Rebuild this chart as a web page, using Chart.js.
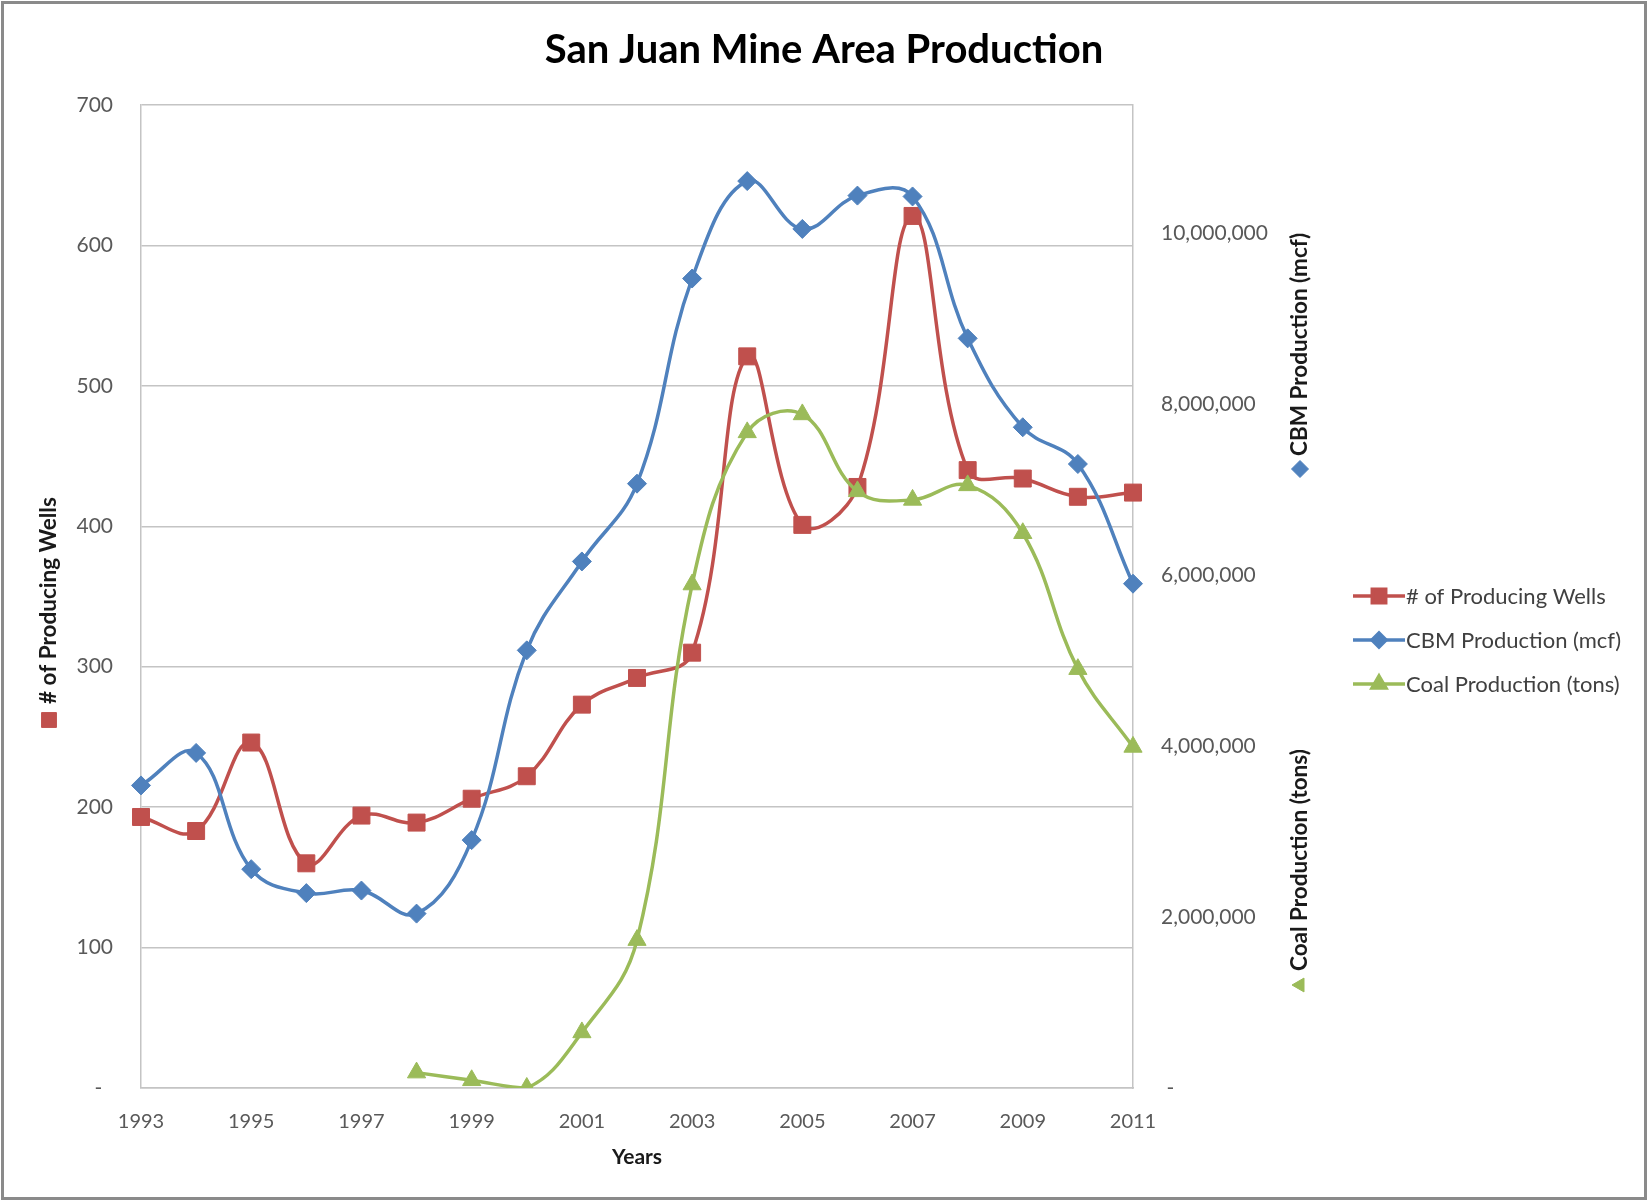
<!DOCTYPE html>
<html>
<head>
<meta charset="utf-8">
<title>San Juan Mine Area Production</title>
<script src="https://cdn.jsdelivr.net/npm/chart.js@4.4.1/dist/chart.umd.min.js"></script>
<style>
    html, body { margin: 0; padding: 0; background: #ffffff; overflow: hidden; }
    #wrap { width: 1648px; height: 1201px; position: relative; }
</style>
</head>
<body>
<div id="wrap"><canvas id="mineChart"></canvas></div>
<script>
// data
const years = ['1993', '1994', '1995', '1996', '1997', '1998', '1999', '2000', '2001', '2002',
               '2003', '2004', '2005', '2006', '2007', '2008', '2009', '2010', '2011'];
const producingWells = [193, 183, 246, 160, 194, 189, 206, 222, 273, 292,
                        310, 521, 401, 428, 621, 440, 434, 421, 424];
const cbmProduction = [3540000, 3920000, 2560000, 2280000, 2310000, 2040000, 2900000, 5120000, 6160000, 7070000,
                       9470000, 10610000, 10050000, 10440000, 10430000, 8770000, 7730000, 7300000, 5900000];
const coalProduction = [null, null, null, null, null, 180000, 90000, 0, 650000, 1730000,
                        5890000, 7670000, 7880000, 6980000, 6880000, 7050000, 6490000, 4900000, 3990000];
const wellTicks = [0, 100, 200, 300, 400, 500, 600, 700];
const productionTicks = [0, 2000000, 4000000, 6000000, 8000000, 10000000];

const RED = '#C0504D';
const BLUE = '#4F81BD';
const GREEN = '#9BBB59';
const GRID = '#C4C4C4';
const TICK_TEXT = '#595959';
const FONT = 'Lato';

Chart.defaults.font.family = FONT;

const seriesStyle = [
    { label: '# of Producing Wells', color: RED, pointStyle: 'rect', legendRadius: 9.5, titleRadius: 10.5 },
    { label: 'CBM Production (mcf)', color: BLUE, pointStyle: 'rectRot', legendRadius: 7, titleRadius: 8.5 },
    { label: 'Coal Production (tons)', color: GREEN, pointStyle: 'triangle', legendRadius: 8, titleRadius: 8 }
];

function marker(ctx, style, radius, x, y) {
    ctx.fillStyle = style.color;
    ctx.strokeStyle = style.color;
    Chart.helpers.drawPoint(ctx, { pointStyle: style.pointStyle, radius: radius, rotation: 0, borderWidth: 1 }, x, y);
}

// rotated axis title with its series marker in front (Excel style)
function sideTitle(ctx, style, cx, markerY, textStartY) {
    ctx.save();
    ctx.translate(cx, markerY);
    ctx.rotate(-Math.PI / 2);
    marker(ctx, style, style.titleRadius, 0, 0);
    ctx.restore();

    ctx.save();
    ctx.translate(cx, textStartY);
    ctx.rotate(-Math.PI / 2);
    ctx.font = 'bold 22.5px ' + FONT;
    ctx.fillStyle = '#1a1a1a';
    ctx.textAlign = 'left';
    ctx.textBaseline = 'middle';
    ctx.fillText(style.label, 0, 0);
    ctx.restore();
}

const excelExtras = {
    id: 'excelExtras',
    beforeDraw(chart) {
        const ctx = chart.ctx;
        ctx.save();
        ctx.fillStyle = '#ffffff';
        ctx.fillRect(0, 0, chart.width, chart.height);
        ctx.restore();
    },
    afterDraw(chart) {
        const ctx = chart.ctx;

        sideTitle(ctx, seriesStyle[0], 49, 720, 704);
        sideTitle(ctx, seriesStyle[1], 1300, 469, 456);
        sideTitle(ctx, seriesStyle[2], 1300, 985, 971);

        // legend: line with marker, label after it
        ctx.save();
        seriesStyle.forEach(function (s, i) {
            const y = 596 + i * 44;
            ctx.strokeStyle = s.color;
            ctx.lineWidth = 3.5;
            ctx.beginPath();
            ctx.moveTo(1353, y);
            ctx.lineTo(1405, y);
            ctx.stroke();
            marker(ctx, s, s.legendRadius, 1379, y);
            ctx.font = '22px ' + FONT;
            ctx.fillStyle = '#404040';
            ctx.textAlign = 'left';
            ctx.textBaseline = 'middle';
            ctx.fillText(s.label, 1406, y + 1);
        });
        ctx.restore();

        // outer frame
        ctx.save();
        ctx.strokeStyle = '#8a8a8a';
        ctx.lineWidth = 3;
        ctx.strokeRect(2.5, 2.5, chart.width - 5, chart.height - 5);
        ctx.restore();
    }
};

function makeDataset(style, values, axis, order) {
    return {
        label: style.label,
        data: values,
        yAxisID: axis,
        order: order,
        borderColor: style.color,
        backgroundColor: style.color,
        pointBackgroundColor: style.color,
        pointBorderColor: style.color,
        pointStyle: style.pointStyle,
        pointRadius: style.pointStyle === 'rect' ? 12 : (style.pointStyle === 'triangle' ? 10.5 : 9.5),
        pointBorderWidth: 1,
        borderWidth: 3.5,
        tension: 0.4,
        fill: false
    };
}

const mineCtx = document.getElementById('mineChart').getContext('2d');
const mineChart = new Chart(mineCtx, {
    type: 'line',
    data: {
        labels: years,
        datasets: [
            makeDataset(seriesStyle[0], producingWells, 'y', 3),
            makeDataset(seriesStyle[1], cbmProduction, 'y1', 2),
            makeDataset(seriesStyle[2], coalProduction, 'y1', 1)
        ]
    },
    options: {
        responsive: true,
        maintainAspectRatio: false,
        animation: false,
        layout: { padding: 0 },
        plugins: {
            legend: { display: false },
            tooltip: { enabled: false },
            title: {
                display: true,
                text: 'San Juan Mine Area Production',
                color: '#000000',
                font: { size: 40, weight: 'bold', lineHeight: 1.2 },
                padding: { top: 26, bottom: 31 }
            }
        },
        scales: {
            x: {
                offset: false,
                grid: { display: false, drawTicks: false },
                border: { display: true, color: GRID, width: 1.5 },
                ticks: {
                    autoSkip: false,
                    maxRotation: 0,
                    padding: 22,
                    color: TICK_TEXT,
                    font: { size: 20 },
                    callback: function (value, index) {
                        return index % 2 === 0 ? years[index] : '';
                    }
                },
                title: {
                    display: true,
                    text: 'Years',
                    color: '#1a1a1a',
                    font: { size: 21, weight: 'bold', lineHeight: 1.2 },
                    padding: { top: 0, bottom: 31 }
                },
                afterFit: function (scale) { scale.height = 113; }
            },
            y: {
                position: 'left',
                min: 0,
                max: 700,
                afterBuildTicks: function (scale) {
                    scale.ticks = wellTicks.map(function (v) { return { value: v }; });
                },
                grid: { color: GRID, lineWidth: 1.5, drawTicks: false },
                border: { display: true, color: GRID, width: 1.5 },
                ticks: {
                    padding: 28,
                    color: TICK_TEXT,
                    font: { size: 21 },
                    callback: function (value) { return value === 0 ? '-  ' : value; }
                },
                afterFit: function (scale) { scale.width = 141; }
            },
            y1: {
                position: 'right',
                min: 0,
                max: 11500000,
                afterBuildTicks: function (scale) {
                    scale.ticks = productionTicks.map(function (v) { return { value: v }; });
                },
                grid: { drawOnChartArea: false, drawTicks: false },
                border: { display: true, color: GRID, width: 1.5 },
                ticks: {
                    padding: 28,
                    color: TICK_TEXT,
                    font: { size: 21 },
                    callback: function (value) {
                        return value === 0 ? ' -' : value.toLocaleString('en-US');
                    }
                },
                afterFit: function (scale) { scale.width = 515; }
            }
        }
    },
    plugins: [excelExtras]
});
</script>
</body>
</html>
